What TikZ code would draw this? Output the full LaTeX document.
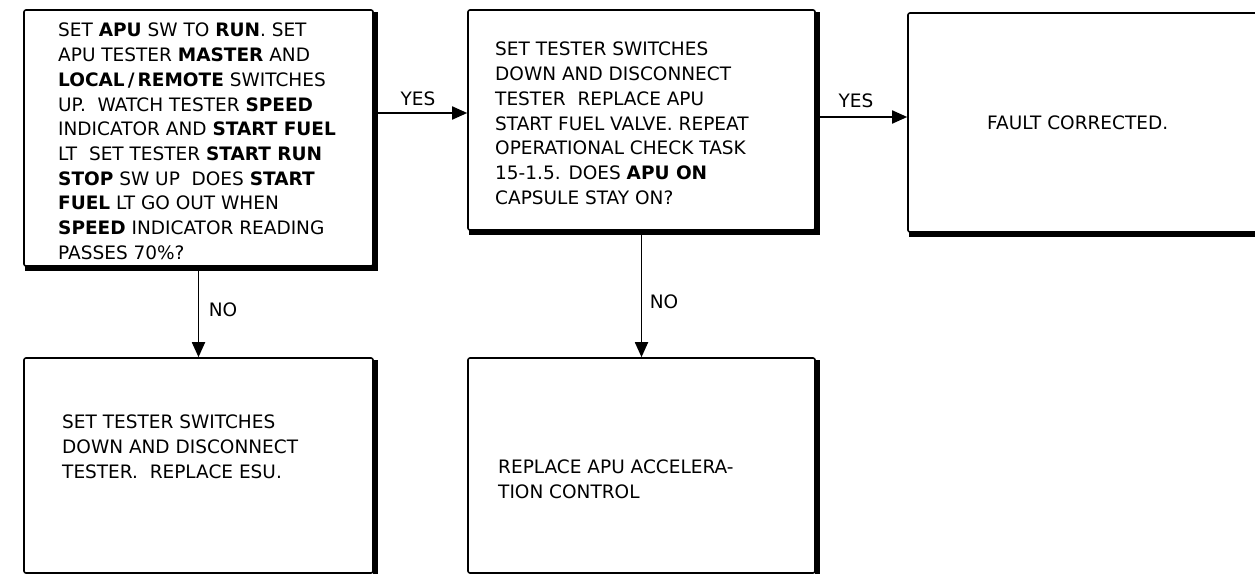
\documentclass[tikz,border=0pt]{standalone}
\usepackage{fontspec}
\setmainfont{DejaVu Sans}
\usetikzlibrary{arrows.meta}
\begin{document}
\begin{tikzpicture}[x=1pt,y=-1pt,
  box/.style={draw, line width=1.6pt, rounded corners=2pt, inner sep=0pt, fill=white},
  shad/.style={line width=5pt, line cap=butt},
  txt/.style={anchor=north west, inner sep=0pt, align=left, font=\fontsize{18.5}{24.7}\selectfont},
  lbl/.style={inner sep=0pt, font=\fontsize{18.5}{22}\selectfont},
  arr/.style={line width=1.8pt, -{Triangle[length=15pt,width=13pt]}}]
\useasboundingbox (0,0) rectangle (1255,575);
\clip (0,0) rectangle (1255,575);
\fill[white] (0,0) rectangle (1255,575);
% boxes
\node[box, minimum width=349pt, minimum height=256pt] (A) at (198.5,138) {};
\node[box, minimum width=347pt, minimum height=220pt] (B) at (641.5,120) {};
\node[box, minimum width=357pt, minimum height=219pt] (C) at (1086.5,122.5) {};
\node[box, minimum width=349pt, minimum height=215pt] (D) at (198.5,465.5) {};
\node[box, minimum width=347pt, minimum height=215pt] (E) at (641.5,465.5) {};
% shadows (right and bottom heavy edges)
\draw[shad] ([shift={(1.5pt,-3pt)}]A.north east) -- ([shift={(1.5pt,-1.5pt)}]A.south east) -- ([shift={(2pt,-1.5pt)}]A.south west);
\draw[shad] ([shift={(1.5pt,-3pt)}]B.north east) -- ([shift={(1.5pt,-1.5pt)}]B.south east) -- ([shift={(2pt,-1.5pt)}]B.south west);
\draw[shad] ([shift={(1.5pt,-3pt)}]C.north east) -- ([shift={(1.5pt,-1.5pt)}]C.south east) -- ([shift={(2pt,-1.5pt)}]C.south west);
\draw[shad] ([shift={(1.5pt,-3pt)}]D.north east) -- ([shift={(1.5pt,0pt)}]D.south east);
\draw[shad] ([shift={(1.5pt,-3pt)}]E.north east) -- ([shift={(1.5pt,0pt)}]E.south east);
% texts
\node[txt] (tA) at (58,23) {SET \textbf{APU} SW TO \textbf{RUN}. SET\\
APU TESTER \textbf{MASTER} AND\\
\textbf{LOCAL\,/\,REMOTE} SWITCHES\\
UP.\ \ WATCH TESTER \textbf{SPEED}\\
INDICATOR AND \textbf{START FUEL}\\
LT\ \ SET TESTER \textbf{START RUN}\\
\textbf{STOP} SW UP\ \ DOES \textbf{START}\\
\textbf{FUEL} LT GO OUT WHEN\\
\textbf{SPEED} INDICATOR READING\\
PASSES 70\%?};
\node[txt] (tB) at (495,42) {SET TESTER SWITCHES\\
DOWN AND DISCONNECT\\
TESTER\ \ REPLACE APU\\
START FUEL VALVE. REPEAT\\
OPERATIONAL CHECK TASK\\
15-1.5. DOES \textbf{APU ON}\\
CAPSULE STAY ON?};
\node[txt] (tC) at (987,116) {FAULT CORRECTED.};
\node[txt] (tD) at (62,415) {SET TESTER SWITCHES\\
DOWN AND DISCONNECT\\
TESTER.\ \ REPLACE ESU.};
\node[txt] (tE) at (498,460) {REPLACE APU ACCELERA-\\
TION CONTROL};
% connectors
\coordinate (pAB) at ([yshift=25pt]A.east);
\coordinate (pBC) at ([yshift=3pt]B.east);
\draw[arr] ([xshift=3pt]pAB) -- (pAB -| B.west);
\draw[arr] ([xshift=3pt]pBC) -- (pBC -| C.west);
\draw[arr] ([yshift=-3pt]A.south) -- (D.north);
\draw[arr] ([yshift=-3pt]B.south) -- (E.north);
% labels
\node[lbl] (yes1) at (418,99) {YES};
\node[lbl] (yes2) at (856,101) {YES};
\node[lbl] (no1) at (223,310) {NO};
\node[lbl] (no2) at (664,302) {NO};
\end{tikzpicture}
\end{document}
